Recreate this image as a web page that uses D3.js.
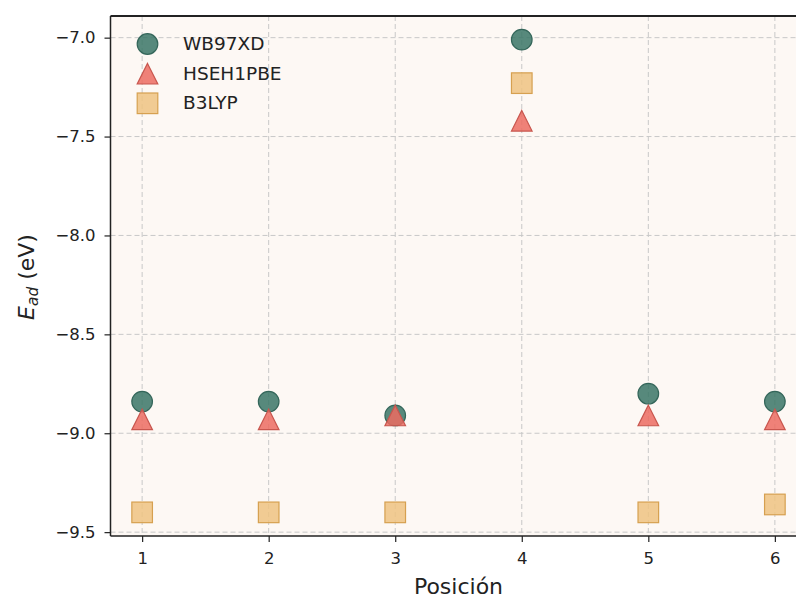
<!DOCTYPE html>
<html>
<head>
<meta charset="utf-8">
<script src="https://cdn.jsdelivr.net/npm/d3@7"></script>
<style>
html,body{margin:0;padding:0;background:#fff;overflow:hidden;}
svg{display:block;font-family:"DejaVu Sans",sans-serif;}
</style>
</head>
<body>
<svg id="chart" width="796" height="601"></svg>
<script>
const positions = [1, 2, 3, 4, 5, 6];
const wb97xd   = [-8.84, -8.84, -8.91, -7.01, -8.80, -8.84];
const hseh1pbe = [-8.93, -8.93, -8.91, -7.42, -8.91, -8.93];
const b3lyp    = [-9.40, -9.40, -9.40, -7.23, -9.40, -9.36];
const yTicks = [-7.0, -7.5, -8.0, -8.5, -9.0, -9.5];
const xTicks = [1, 2, 3, 4, 5, 6];
const seriesNames = ["WB97XD", "HSEH1PBE", "B3LYP"];

const svg = d3.select("#chart");
const L = 110.5, T = 16, B = 536, R = 806.5;
const x = d3.scaleLinear().domain([0.75, 6.25]).range([L, R]);
const y = d3.scaleLinear().domain([-9.5195, -6.8905]).range([B, T]);

// axes background
svg.append("rect").attr("x", L).attr("y", T).attr("width", R - L).attr("height", B - T).attr("fill", "#fdf8f4");

// grid
const grid = svg.append("g").attr("stroke", "#c8c8c8").attr("stroke-width", 1).attr("stroke-dasharray", "5,3").attr("fill", "none");
yTicks.forEach(t => grid.append("line").attr("x1", L).attr("x2", R).attr("y1", y(t)).attr("y2", y(t)));
xTicks.forEach(t => grid.append("line").attr("x1", x(t)).attr("x2", x(t)).attr("y1", T).attr("y2", B));

// axes
const fmt = d => (d < 0 ? "\u2212" : "") + Math.abs(d).toFixed(1);
const yAxis = svg.append("g").attr("transform", `translate(${L},0)`)
  .call(d3.axisLeft(y).tickValues(yTicks).tickFormat(fmt).tickSize(6).tickPadding(9));
const xAxis = svg.append("g").attr("transform", `translate(0,${B})`)
  .call(d3.axisBottom(x).tickValues(xTicks).tickFormat(d3.format("d")).tickSize(6).tickPadding(10));
[yAxis, xAxis].forEach(a => {
  a.select(".domain").remove();
  a.selectAll(".tick line").attr("stroke", "#222").attr("stroke-width", 1.2);
  a.selectAll(".tick text").attr("fill", "#222").style("font-size", "16.5px").style("font-family", "DejaVu Sans");
});

// spines
svg.append("line").attr("x1", L).attr("x2", L).attr("y1", T).attr("y2", B).attr("stroke", "#222").attr("stroke-width", 1.5);
svg.append("line").attr("x1", L).attr("x2", 796).attr("y1", B).attr("y2", B).attr("stroke", "#222").attr("stroke-width", 1.5);
svg.append("line").attr("x1", L).attr("x2", 796).attr("y1", T).attr("y2", T).attr("stroke", "#222").attr("stroke-width", 1.8);

// markers
const styles = {
  circle:   {fill: "#3a7666", stroke: "#34665a"},
  triangle: {fill: "#ec6c62", stroke: "#c8564e"},
  square:   {fill: "#efc381", stroke: "#d6a050"}
};
const R_M = 10.3;
const triPath = (cx, cy, r) => `M${cx},${cy - r}L${cx + r},${cy + r}L${cx - r},${cy + r}Z`;
function drawCircle(g, cx, cy) {
  g.append("circle").attr("cx", cx).attr("cy", cy).attr("r", R_M)
    .attr("fill", styles.circle.fill).attr("fill-opacity", 0.85)
    .attr("stroke", styles.circle.stroke).attr("stroke-width", 1.2);
}
function drawTri(g, cx, cy) {
  g.append("path").attr("d", triPath(cx, cy, R_M))
    .attr("fill", styles.triangle.fill).attr("fill-opacity", 0.85)
    .attr("stroke", styles.triangle.stroke).attr("stroke-width", 1.2);
}
function drawSquare(g, cx, cy) {
  g.append("rect").attr("x", cx - R_M).attr("y", cy - R_M).attr("width", 2 * R_M).attr("height", 2 * R_M)
    .attr("fill", styles.square.fill).attr("fill-opacity", 0.85)
    .attr("stroke", styles.square.stroke).attr("stroke-width", 1.2);
}
const marks = svg.append("g");
positions.forEach((p, i) => drawCircle(marks, x(p), y(wb97xd[i])));
positions.forEach((p, i) => drawTri(marks, x(p), y(hseh1pbe[i])));
positions.forEach((p, i) => drawSquare(marks, x(p), y(b3lyp[i])));

// legend
const leg = svg.append("g");
const legY = [44, 73.7, 103.3];
const drawers = [drawCircle, drawTri, drawSquare];
seriesNames.forEach((n, i) => {
  drawers[i](leg, 147.5, legY[i]);
  leg.append("text").attr("x", 183).attr("y", legY[i] + 5.8)
    .style("font-size", "18.5px").attr("fill", "#222").text(n);
});

// axis labels
svg.append("text").attr("x", 458.5).attr("y", 594).attr("text-anchor", "middle")
  .style("font-size", "22px").attr("fill", "#222").text("Posición");
const yl = svg.append("text").attr("transform", "translate(34,277) rotate(-90)")
  .attr("text-anchor", "middle").style("font-size", "22px").attr("fill", "#222");
yl.append("tspan").style("font-style", "italic").text("E");
yl.append("tspan").style("font-style", "italic").style("font-size", "15.4px").attr("dy", 4).text("ad");
yl.append("tspan").attr("dy", -4).text(" (eV)");
</script>
</body>
</html>
